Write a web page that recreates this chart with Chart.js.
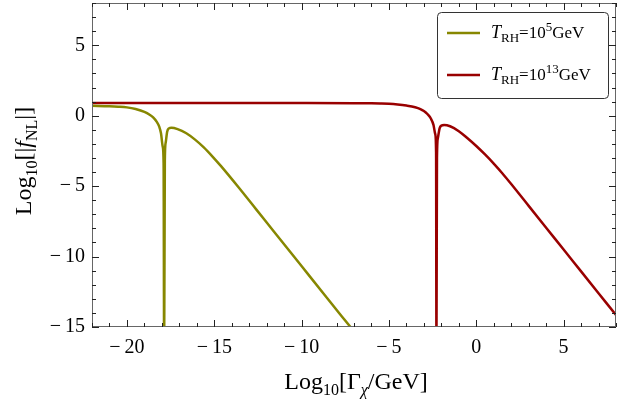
<!DOCTYPE html>
<html>
<head>
<meta charset="utf-8">
<script src="https://cdn.jsdelivr.net/npm/chart.js@4.4.0/dist/chart.umd.min.js"></script>
<style>
  html, body { margin: 0; padding: 0; background: #fff; }
</style>
</head>
<body>
<canvas id="chart" width="636" height="401"></canvas>
<script>
// T_RH = 10^5 GeV
const lowX = [-22, -21, -20.5, -20, -19.5, -19, -18.7, -18.5, -18.3, -18.15, -18.05, -17.95, -17.9, -17.87,
  -17.83, -17.78, -17.7, -17.6, -17.45, -17.1, -16.6, -16.1, -15.6, -15.1, -14.6, -13.6, -12.6, -11.6,
  -10.6, -9.6, -8.6, -7.6, -7.0];
const lowY = [0.70, 0.67, 0.64, 0.59, 0.47, 0.27, 0.07, -0.12, -0.42, -0.78, -1.25, -2.2, -3.4, -17,
  -3.2, -1.9, -1.15, -0.9, -0.85, -0.95, -1.25, -1.7, -2.25, -2.9, -3.6, -5.1, -6.65, -8.2,
  -9.75, -11.3, -12.85, -14.4, -15.3];

// T_RH = 10^13 GeV
const highX = [-22, -10, -7, -6, -5.5, -5, -4.5, -4, -3.5, -3.2, -3.0, -2.8, -2.6, -2.45, -2.35, -2.3, -2.28,
  -2.25, -2.2, -2.1, -2.0, -1.84, -1.5, -1.0, -0.5, 0, 0.5, 1, 1.5, 2, 3, 4, 5, 6, 7, 8];
const highY = [0.90, 0.90, 0.89, 0.88, 0.87, 0.85, 0.80, 0.72, 0.60, 0.47, 0.33, 0.12, -0.2, -0.65, -1.3, -2.6, -17,
  -3, -1.6, -0.9, -0.7, -0.66, -0.75, -1.1, -1.6, -2.15, -2.75, -3.4, -4.1, -4.85, -6.4, -7.95, -9.5, -11.05, -12.6, -14.15];

const seriesExp = ['5', '13'];
const seriesColors = ['#878700', '#990000'];

const xTicks = [-20, -15, -10, -5, 0, 5];
const yTicks = [-15, -10, -5, 0, 5];

const serif = '"Liberation Serif", "DejaVu Serif", serif';

const toPoints = (xs, ys) => xs.map((x, i) => ({ x: x, y: ys[i] }));
const fmt = v => v < 0 ? '\u2212\u2009' + Math.abs(v) : String(v);

// draw a row of text pieces (sub/superscripts), centred on x
function drawRuns(ctx, runs, x, y, align) {
  let total = 0;
  runs.forEach(r => {
    ctx.font = (r.it ? 'italic ' : '') + r.s + 'px ' + serif;
    r.w = ctx.measureText(r.t).width;
    total += r.w;
  });
  let cx = align === 'left' ? x : x - total / 2;
  ctx.textBaseline = 'alphabetic';
  ctx.textAlign = 'left';
  runs.forEach(r => {
    ctx.font = (r.it ? 'italic ' : '') + r.s + 'px ' + serif;
    ctx.fillText(r.t, cx, y + (r.dy || 0));
    cx += r.w;
  });
}

const framePlugin = {
  id: 'frame',
  afterDatasetsDraw(chart) {
    const { ctx, chartArea: a, scales } = chart;
    ctx.save();
    ctx.strokeStyle = '#666';
    ctx.lineWidth = 1;
    ctx.strokeRect(a.left + 0.5, a.top + 0.5, a.right - a.left - 1, a.bottom - a.top - 1);

    ctx.strokeStyle = '#222';
    ctx.beginPath();
    for (let v = -22; v <= 8; v++) {
      const px = Math.round(scales.x.getPixelForValue(v)) + 0.5;
      const len = xTicks.includes(v) ? 7 : 4;
      ctx.moveTo(px, a.bottom); ctx.lineTo(px, a.bottom - len);
      ctx.moveTo(px, a.top); ctx.lineTo(px, a.top + len);
    }
    for (let v = -15; v <= 8; v++) {
      const py = Math.round(scales.y.getPixelForValue(v)) + 0.5;
      const len = yTicks.includes(v) ? 7 : 4;
      ctx.moveTo(a.left, py); ctx.lineTo(a.left + len, py);
      ctx.moveTo(a.right, py); ctx.lineTo(a.right - len, py);
    }
    ctx.stroke();

    // axis titles
    ctx.fillStyle = '#000';
    drawRuns(ctx, [
      { t: 'Log', s: 24 }, { t: '10', s: 16, dy: 6 }, { t: '[\u0393', s: 24 },
      { t: '\u03c7', s: 16, dy: 6, it: true }, { t: '/GeV]', s: 24 }
    ], 356, 389);

    ctx.save();
    ctx.translate(31, 161);
    ctx.rotate(-Math.PI / 2);
    drawRuns(ctx, [
      { t: 'Log', s: 24 }, { t: '10', s: 16, dy: 6 }, { t: '[|', s: 24 },
      { t: 'f', s: 24, it: true }, { t: 'NL', s: 16, dy: 6 }, { t: '|]', s: 24 }
    ], 0, 0);
    ctx.restore();

    // legend
    ctx.fillStyle = '#fff';
    ctx.strokeStyle = '#333';
    ctx.lineWidth = 1;
    ctx.beginPath();
    ctx.roundRect(437.5, 12.5, 171, 86, 4);
    ctx.fill();
    ctx.stroke();
    seriesExp.forEach((e, i) => {
      const y = 33 + i * 42;
      ctx.strokeStyle = seriesColors[i];
      ctx.lineWidth = 2.5;
      ctx.beginPath();
      ctx.moveTo(447, y); ctx.lineTo(480, y);
      ctx.stroke();
      ctx.fillStyle = '#000';
      drawRuns(ctx, [
        { t: 'T', s: 18, it: true }, { t: 'RH', s: 13, dy: 4 }, { t: '=10', s: 17 },
        { t: e, s: 13, dy: -7 }, { t: 'GeV', s: 17 }
      ], 491, y + 5, 'left');
    });
    ctx.restore();
  }
};

new Chart(document.getElementById('chart'), {
  type: 'scatter',
  data: {
    datasets: [
      { data: toPoints(lowX, lowY), borderColor: seriesColors[0] },
      { data: toPoints(highX, highY), borderColor: seriesColors[1] }
    ].map(d => Object.assign(d, {
      showLine: true, pointRadius: 0, borderWidth: 2.5,
      cubicInterpolationMode: 'monotone', clip: 0
    }))
  },
  options: {
    responsive: false,
    animation: false,
    layout: { padding: { top: 3, right: 20, left: 0, bottom: 0 } },
    plugins: { legend: { display: false }, tooltip: { enabled: false } },
    scales: {
      x: {
        type: 'linear', min: -22, max: 8,
        grid: { display: false, drawTicks: false }, border: { display: false },
        afterBuildTicks: s => { s.ticks = xTicks.map(v => ({ value: v })); },
        afterFit: s => { s.height = 74; s.paddingLeft = 0; s.paddingRight = 0; },
        ticks: { color: '#000', font: { family: serif, size: 20 }, padding: 9,
          maxRotation: 0, autoSkip: false, callback: fmt }
      },
      y: {
        type: 'linear', min: -15, max: 8,
        grid: { display: false, drawTicks: false }, border: { display: false },
        afterBuildTicks: s => { s.ticks = yTicks.map(v => ({ value: v })); },
        afterFit: s => { s.width = 92; s.paddingTop = 0; s.paddingBottom = 0; },
        ticks: { color: '#000', font: { family: serif, size: 20 }, padding: 7,
          autoSkip: false, callback: fmt }
      }
    }
  },
  plugins: [framePlugin]
});
</script>
</body>
</html>
